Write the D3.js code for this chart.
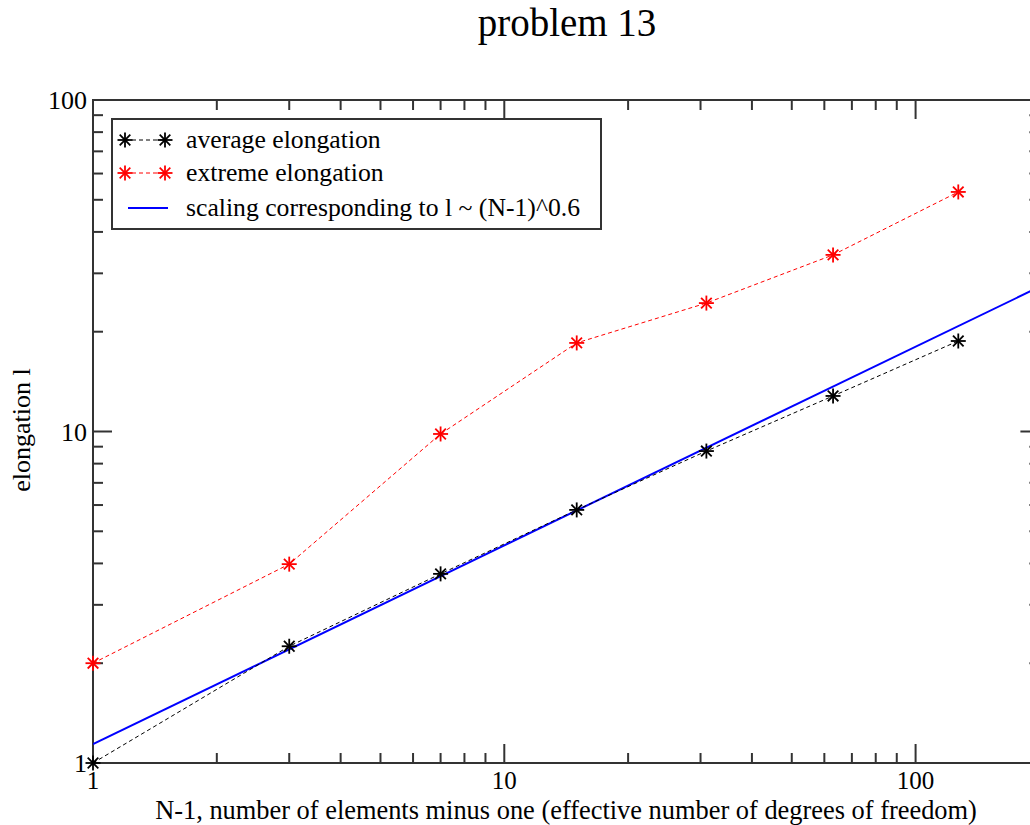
<!DOCTYPE html>
<html lang="en">
<head>
  <meta charset="utf-8">
  <title>problem 13</title>
  <script src="https://d3js.org/d3.v7.min.js"></script>
  <style>
    body { margin: 0; background: #fff; }
    text { font-family: "Liberation Serif", "Times New Roman", serif; }
  </style>
</head>
<body>
<script>
  // data
  var nMinusOne = [1, 3, 7, 15, 31, 63, 127];
  var averageElongation = [1.0, 2.25, 3.72, 5.8, 8.73, 12.8, 18.75];
  var extremeElongation = [2.0, 3.98, 9.83, 18.5, 24.4, 34.1, 52.8];
  // scaling line l ~ (N-1)^0.6, endpoints
  var scalingX = [1, 200];
  var scalingY = [1.14, 27.3];
  var xTickLabels = [1, 10, 100];
  var yTickLabels = [1, 10, 100];

  (function () {
  var W = 1030, H = 825;
  var mLeft = 93, mTop = 100, mBottom = 763, mRight = 1039.4;

  var svg = d3.select("body").append("svg")
    .attr("width", W)
    .attr("height", H);

  var x = d3.scaleLog().domain([1, 200]).range([mLeft, mRight]);
  var y = d3.scaleLog().domain([1, 100]).range([mBottom, mTop]);

  svg.append("clipPath").attr("id", "clip")
    .append("rect").attr("x", mLeft).attr("y", mTop)
    .attr("width", mRight - mLeft).attr("height", mBottom - mTop);

  // minor/major ticks
  var xMinor = [], yMinor = [];
  [1, 10, 100].forEach(function (d) {
    for (var k = 2; k <= 9; k++) {
      if (d * k <= 200) xMinor.push(d * k);
      if (d < 100) yMinor.push(d * k);
    }
  });

  var axisColor = "#333";
  var tickG = svg.append("g").attr("stroke", axisColor).attr("stroke-width", 2);

  function xTicks(vals, len) {
    vals.forEach(function (v) {
      tickG.append("line").attr("x1", x(v)).attr("x2", x(v)).attr("y1", mBottom).attr("y2", mBottom - len);
      tickG.append("line").attr("x1", x(v)).attr("x2", x(v)).attr("y1", mTop).attr("y2", mTop + len);
    });
  }
  function yTicks(vals, len) {
    vals.forEach(function (v) {
      tickG.append("line").attr("y1", y(v)).attr("y2", y(v)).attr("x1", mLeft).attr("x2", mLeft + len);
      tickG.append("line").attr("y1", y(v)).attr("y2", y(v)).attr("x1", mRight).attr("x2", mRight - len);
    });
  }
  xTicks(xTickLabels, 19);
  xTicks(xMinor, 10);
  yTicks(yTickLabels, 19);
  yTicks(yMinor, 10);

  // frame
  svg.append("rect")
    .attr("x", mLeft).attr("y", mTop)
    .attr("width", mRight - mLeft).attr("height", mBottom - mTop)
    .attr("fill", "none").attr("stroke", axisColor).attr("stroke-width", 2);

  // tick labels
  svg.selectAll(".xl").data(xTickLabels).enter().append("text")
    .attr("x", function (d) { return x(d); })
    .attr("y", mBottom + 26)
    .attr("text-anchor", "middle")
    .attr("font-size", "25px")
    .text(function (d) { return d; });

  svg.selectAll(".yl").data(yTickLabels).enter().append("text")
    .attr("x", mLeft - 6)
    .attr("y", function (d) { return y(d) + 9; })
    .attr("text-anchor", "end")
    .attr("font-size", "26px")
    .text(function (d) { return d; });

  // titles
  svg.append("text")
    .attr("x", 567).attr("y", 36)
    .attr("text-anchor", "middle")
    .attr("font-size", "39px")
    .text("problem 13");

  svg.append("text")
    .attr("x", 566).attr("y", 819)
    .attr("text-anchor", "middle")
    .attr("font-size", "26.4px")
    .text("N-1, number of elements minus one (effective number of degrees of freedom)");

  svg.append("text")
    .attr("transform", "translate(30," + 430 + ") rotate(-90)")
    .attr("text-anchor", "middle")
    .attr("font-size", "26px")
    .text("elongation l");

  // data
  var plot = svg.append("g").attr("clip-path", "url(#clip)");

  var line = d3.line()
    .x(function (d) { return x(d[0]); })
    .y(function (d) { return y(d[1]); });

  plot.append("path")
    .datum(d3.zip(scalingX, scalingY))
    .attr("d", line)
    .attr("fill", "none").attr("stroke", "#0000ff").attr("stroke-width", 2);

  function star(g, cx, cy, color) {
    var r = 7.5, r2 = 5.3;
    var s = g.append("g").attr("stroke", color).attr("stroke-width", 1.8)
      .attr("transform", "translate(" + cx + "," + cy + ")");
    s.append("line").attr("x1", -r).attr("x2", r).attr("y1", 0).attr("y2", 0);
    s.append("line").attr("x1", 0).attr("x2", 0).attr("y1", -r).attr("y2", r);
    s.append("line").attr("x1", -r2).attr("x2", r2).attr("y1", -r2).attr("y2", r2);
    s.append("line").attr("x1", -r2).attr("x2", r2).attr("y1", r2).attr("y2", -r2);
  }

  var series = [
    { vals: averageElongation, color: "#000000" },
    { vals: extremeElongation, color: "#ff0000" }
  ];
  series.forEach(function (s) {
    var pts = d3.zip(nMinusOne, s.vals);
    svg.append("path")
      .datum(pts)
      .attr("d", line)
      .attr("fill", "none").attr("stroke", s.color).attr("stroke-width", 1)
      .attr("stroke-dasharray", "4,3");
    pts.forEach(function (p) { star(svg, x(p[0]), y(p[1]), s.color); });
  });

  // legend
  var lg = svg.append("g");
  lg.append("rect")
    .attr("x", 112).attr("y", 119).attr("width", 489).attr("height", 110)
    .attr("fill", "#fff").attr("stroke", axisColor).attr("stroke-width", 2);

  var legendItems = [
    { label: "average elongation", color: "#000000", marker: true, yy: 140 },
    { label: "extreme elongation", color: "#ff0000", marker: true, yy: 173 },
    { label: "scaling corresponding to l ~ (N-1)^0.6", color: "#0000ff", marker: false, yy: 208 }
  ];
  legendItems.forEach(function (d) {
    if (d.marker) {
      lg.append("line").attr("x1", 125).attr("x2", 165).attr("y1", d.yy).attr("y2", d.yy)
        .attr("stroke", d.color).attr("stroke-width", 1).attr("stroke-dasharray", "4,3");
      star(lg, 125, d.yy, d.color);
      star(lg, 165, d.yy, d.color);
    } else {
      lg.append("line").attr("x1", 128).attr("x2", 168).attr("y1", d.yy).attr("y2", d.yy)
        .attr("stroke", d.color).attr("stroke-width", 2);
    }
    lg.append("text")
      .attr("x", 186).attr("y", d.yy + 8)
      .attr("font-size", "25.7px")
      .text(d.label);
  });
  })();
</script>
</body>
</html>
